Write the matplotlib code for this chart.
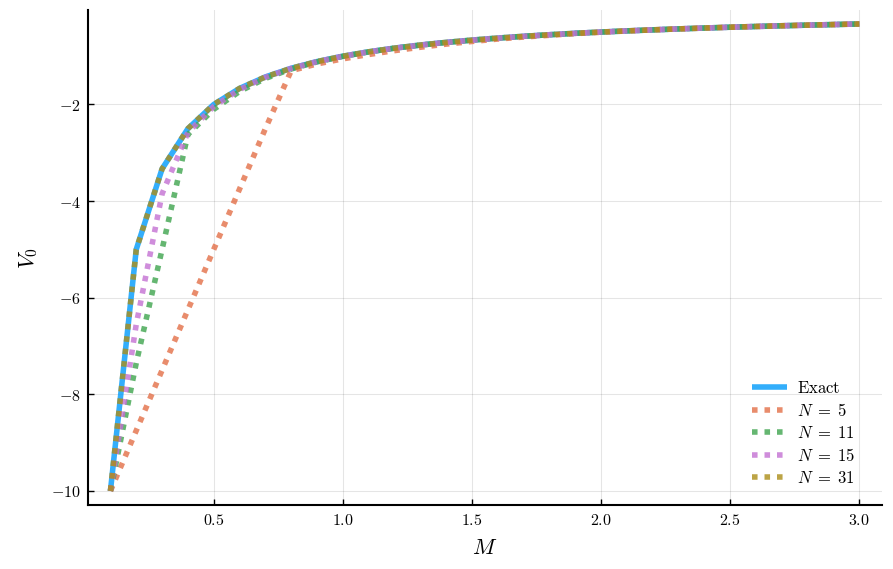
import matplotlib
matplotlib.use("Agg")
import matplotlib.pyplot as plt

plt.rcParams['mathtext.fontset'] = 'cm'
plt.rcParams['font.family'] = ['DejaVu Serif']

# M grid and values
M = [0.1, 0.2, 0.3, 0.4, 0.5, 0.6, 0.7, 0.8, 0.9, 1.0,
     1.1, 1.2, 1.3, 1.4, 1.5, 1.6, 1.7, 1.8, 1.9, 2.0,
     2.1, 2.2, 2.3, 2.4, 2.5, 2.6, 2.7, 2.8, 2.9, 3.0]
exact = [-10.0, -5.0, -3.333, -2.5, -2.0, -1.667, -1.429, -1.25, -1.111, -1.0,
         -0.909, -0.833, -0.769, -0.714, -0.667, -0.625, -0.588, -0.556, -0.526, -0.5,
         -0.476, -0.455, -0.435, -0.417, -0.4, -0.385, -0.370, -0.357, -0.345, -0.333]
n5 = [-10.0, -8.75, -7.5, -6.25, -5.0, -3.75, -2.5, -1.3, -1.16, -1.055,
      -0.965, -0.885, -0.815, -0.75, -0.695, -0.645, -0.603, -0.567, -0.532, -0.504,
      -0.478, -0.455, -0.435, -0.417, -0.4, -0.385, -0.370, -0.357, -0.345, -0.333]
n11 = [-10.0, -7.35, -5.0, -2.62, -2.1, -1.73, -1.46, -1.265, -1.118, -1.003,
       -0.911, -0.834, -0.770, -0.715, -0.667, -0.625, -0.588, -0.556, -0.526, -0.5,
       -0.476, -0.455, -0.435, -0.417, -0.4, -0.385, -0.370, -0.357, -0.345, -0.333]
n15 = [-10.0, -6.55, -3.85, -2.58, -2.04, -1.69, -1.435, -1.252, -1.112, -1.0,
       -0.909, -0.833, -0.769, -0.714, -0.667, -0.625, -0.588, -0.556, -0.526, -0.5,
       -0.476, -0.455, -0.435, -0.417, -0.4, -0.385, -0.370, -0.357, -0.345, -0.333]
n31 = list(exact)

series = [
    (exact, r'$\mathrm{Exact}$', '#009AFA', '-'),
    (n5, r'$N \;=\; 5$', '#E36F47', ':'),
    (n11, r'$N \;=\; 11$', '#3EA44E', ':'),
    (n15, r'$N \;=\; 15$', '#C371D2', ':'),
    (n31, r'$N \;=\; 31$', '#AC8D18', ':'),
]

xticks = [0.5, 1.0, 1.5, 2.0, 2.5, 3.0]
yticks = [-10, -8, -6, -4, -2]

fig = plt.figure(figsize=(8.93, 5.69), dpi=100)
ax = fig.add_axes([0.0985, 0.1125, 0.889, 0.870])

for vals, lab, col, ls in series:
    line, = ax.plot(M, vals, color=col, alpha=0.8, lw=4.0, label=lab,
                    solid_capstyle='butt')
    if ls == ':':
        line.set_dashes((1.0, 1.25))
        line.set_dash_capstyle('butt')

ax.set_xlim(0.013, 3.087)
ax.set_ylim(-10.29, -0.043)
ax.set_xticks(xticks)
ax.set_xticklabels([f'${t:.1f}$' for t in xticks])
ax.set_yticks(yticks)
ax.set_yticklabels([f'$-{abs(t)}$' for t in yticks])
ax.tick_params(direction='in', length=4, width=1, labelsize=11.5, pad=5)
ax.grid(True, color='black', alpha=0.1, lw=0.8)
ax.set_axisbelow(True)
for side in ['top', 'right']:
    ax.spines[side].set_visible(False)
for side in ['left', 'bottom']:
    ax.spines[side].set_linewidth(1.5)

ax.set_xlabel(r'$M$', fontsize=16, labelpad=6)
ax.set_ylabel(r'$V_0$', fontsize=16, labelpad=8)

ax.legend(loc='lower right', bbox_to_anchor=(0.985, 0.006), frameon=False,
          fontsize=12, handlelength=2.1, labelspacing=0.33,
          borderaxespad=0.5, handletextpad=0.6)

fig.savefig('out.png', dpi=100)
